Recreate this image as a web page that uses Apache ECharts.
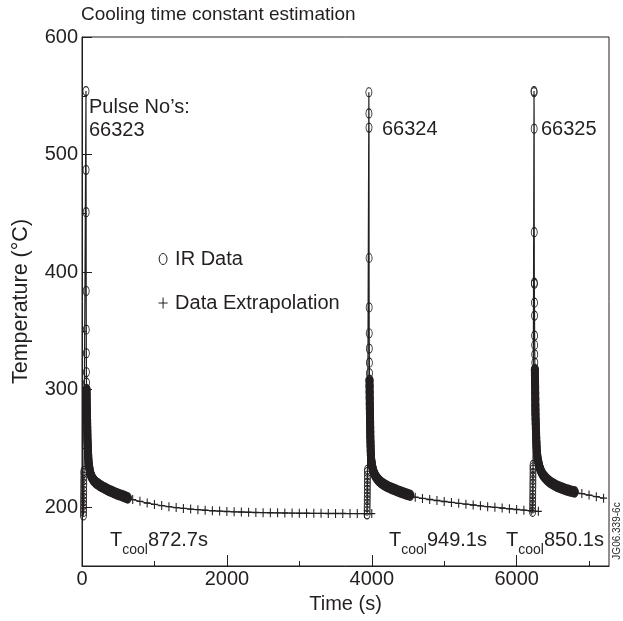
<!DOCTYPE html>
<html>
<head>
<meta charset="utf-8">
<title>Cooling time constant estimation</title>
<script src="https://cdn.jsdelivr.net/npm/echarts@6.0.0/dist/echarts.min.js"></script>
<style>
  html, body { margin: 0; padding: 0; background: #fff; }
  #chart { width: 623px; height: 621px; }
</style>
</head>
<body>
<div id="chart"></div>
<script>
// ink + font shared by every piece of text and every mark
const INK = '#231f20'
const FONT = '"Liberation Sans", Arial, Helvetica, sans-serif'

// axis ticks (values only)
const xTicks = [0, 2000, 4000, 6000]
const xMinorTicks = [1000, 3000, 5000, 7000]
const yTicks = [200, 300, 400, 500, 600]
const yMinorTicks = [250, 350, 450, 550]

// labels
const pulseNos = ['66323', '66324', '66325']
const tcool = ['872.7s', '949.1s', '850.1s']

// IR data, [time s, temperature C]
// spike = pre-pulse rise + sparse points on the peak; tail = dense cooling points
const irSpike66323 = [
  [20, 193], [21, 196], [21, 199], [22, 202], [22, 205], [23, 208], [23, 211], [24, 214],
  [24, 217], [25, 220], [25, 223], [26, 226], [26, 229], [27, 231],
  [55, 554], [56, 487], [57, 451], [58, 384], [59, 351], [60, 331], [61, 315], [62, 306]
]
const irTail66323 = [
  [63, 300], [64, 296], [65, 292], [66, 288], [67, 284], [68, 280], [69, 277], [70, 274],
  [71, 271], [72, 268], [73, 265], [74, 262], [75, 259], [77, 256], [79, 253], [81, 250],
  [83, 247], [85, 244], [88, 241], [91, 238], [95, 236], [100, 234], [106, 231.5],
  [113, 229.5], [121, 227.8], [130, 226.3], [140, 225], [152, 223.8], [165, 222.7],
  [180, 221.7], [196, 220.8], [213, 220], [232, 219.2], [252, 218.4], [274, 217.6],
  [297, 216.8], [321, 216], [346, 215.2], [372, 214.4], [398, 213.7], [424, 213],
  [450, 212.3], [476, 211.6], [502, 211], [528, 210.4], [554, 209.8], [580, 209.2],
  [606, 208.6], [630, 208]
]
const irSpike66324 = [
  [3935, 194], [3936, 197], [3936, 200], [3937, 203], [3937, 206], [3938, 209], [3938, 212],
  [3939, 215], [3939, 218], [3940, 221], [3940, 224], [3941, 227], [3941, 230], [3942, 232],
  [3960, 553], [3961, 535], [3962, 523], [3963, 412], [3964, 370], [3965, 348], [3966, 335],
  [3967, 323], [3968, 314]
]
const irTail66324 = [
  [3969, 308], [3970, 303], [3971, 298], [3972, 293], [3973, 288], [3974, 284], [3975, 280],
  [3976, 276], [3977, 272], [3978, 268], [3979, 264], [3980, 260], [3982, 256], [3984, 252],
  [3986, 248], [3988, 244.5], [3991, 241], [3995, 239], [4000, 237], [4006, 234.8],
  [4013, 232.8], [4021, 231], [4030, 229.4], [4040, 228], [4051, 226.6], [4064, 225.3],
  [4078, 224.1], [4094, 223], [4111, 222], [4130, 221], [4150, 220.1], [4172, 219.2],
  [4195, 218.4], [4220, 217.6], [4246, 216.8], [4273, 216.1], [4300, 215.4], [4328, 214.7],
  [4356, 214], [4385, 213.3], [4414, 212.6], [4443, 212], [4472, 211.4], [4501, 210.8],
  [4530, 210.2]
]
const irSpike66325 = [
  [6220, 196], [6221, 199], [6221, 202], [6222, 205], [6222, 208], [6223, 211], [6223, 214],
  [6224, 217], [6224, 220], [6225, 223], [6225, 226], [6226, 229], [6226, 232], [6227, 234],
  [6227, 236],
  [6240, 554], [6241, 553], [6242, 522], [6243, 434], [6244, 391], [6245, 390], [6246, 374],
  [6247, 363], [6248, 346], [6249, 338], [6250, 330], [6251, 323]
]
const irTail66325 = [
  [6252, 317], [6253, 312], [6254, 307], [6255, 302], [6256, 297], [6257, 292], [6258, 287],
  [6259, 283], [6260, 279], [6262, 275], [6264, 271], [6266, 267], [6268, 263], [6270, 259],
  [6273, 255], [6276, 251], [6280, 247], [6285, 243.5], [6291, 241], [6298, 239],
  [6306, 236.5], [6315, 234.3], [6326, 232.3], [6338, 230.5], [6352, 228.8], [6367, 227.3],
  [6384, 226], [6402, 224.7], [6421, 223.5], [6441, 222.4], [6462, 221.4], [6484, 220.5],
  [6507, 219.6], [6531, 218.8], [6556, 218], [6582, 217.3], [6608, 216.6], [6635, 216],
  [6662, 215.4], [6690, 214.8], [6718, 214.3], [6746, 213.8], [6774, 213.4], [6800, 213]
]

// extrapolated cooling curves
const ext66323 = [
  [640, 207.8], [700, 206.5], [800, 205], [900, 203.6], [1000, 202.4], [1100, 201.4],
  [1200, 200.5], [1300, 199.7], [1400, 199], [1500, 198.4], [1600, 197.9], [1700, 197.4],
  [1800, 197], [1900, 196.7], [2000, 196.4], [2100, 196.1], [2200, 195.9], [2300, 195.7],
  [2400, 195.5], [2500, 195.4], [2600, 195.3], [2700, 195.2], [2800, 195.1], [2900, 195],
  [3000, 194.9], [3100, 194.9], [3200, 194.8], [3300, 194.8], [3400, 194.7], [3500, 194.7],
  [3600, 194.7], [3700, 194.6], [3800, 194.6], [3900, 194.6], [4000, 194.6]
]
const ext66324 = [
  [4540, 210], [4600, 208.5], [4700, 207.5], [4800, 206.6], [4900, 205.7], [5000, 204.9],
  [5100, 204.1], [5200, 203.3], [5300, 202.6], [5400, 201.9], [5500, 201.2], [5600, 200.5],
  [5700, 199.9], [5800, 199.3], [5900, 198.7], [6000, 198.1], [6100, 197.5], [6200, 197],
  [6300, 196.5]
]
const ext66325 = [
  [6810, 212.8], [6900, 211.6], [7000, 210.3], [7100, 209], [7200, 207.7]
]

const PLUS = 'path://M0,6H10M5,0V12'
const OVAL = 'path://M5,0A5,7 0 1 1 5,14A5,7 0 1 1 5,0Z'

// thin line + open circles for the sparse part of each pulse
function irSpikeSeries(spike, tail) {
  return {
    type: 'line', name: 'IR Data', data: spike.concat([tail[0]]),
    symbol: 'circle', symbolSize: [6, 9],
    itemStyle: { color: 'transparent', borderColor: INK, borderWidth: 1 },
    lineStyle: { color: INK, width: 1.2 },
    silent: true, z: 3
  }
}
// dense cooling points overlap into a solid band
function irTailSeries(tail) {
  return {
    type: 'line', name: 'IR Data', data: tail,
    symbol: 'circle', symbolSize: [7, 10],
    itemStyle: { color: 'transparent', borderColor: INK, borderWidth: 1.4 },
    lineStyle: { color: INK, width: 8, cap: 'round', join: 'round' },
    silent: true, z: 3
  }
}
function extSeries(data) {
  return {
    type: 'line', name: 'Data Extrapolation', data: data,
    symbol: PLUS, symbolSize: [7, 9],
    itemStyle: { color: INK, borderColor: INK, borderWidth: 1.2 },
    lineStyle: { color: INK, width: 1 },
    silent: true, z: 2
  }
}

function tcoolText(left, value) {
  return {
    type: 'text', left: left, top: 530,
    style: {
      text: '{t|T}{s|cool}{t|' + value + '}',
      fill: INK,
      rich: {
        t: { fontSize: 20, lineHeight: 34, fontFamily: FONT, fill: INK },
        s: { fontSize: 14, lineHeight: 14, verticalAlign: 'bottom', fontFamily: FONT, fill: INK }
      }
    }
  }
}

const label20 = { fontSize: 20, color: INK, fontFamily: FONT }

const chart = echarts.init(document.getElementById('chart'), null, { renderer: 'canvas' })
chart.setOption({
  animation: false,
  backgroundColor: '#fff',
  textStyle: { fontFamily: FONT, color: INK },
  title: {
    text: 'Cooling time constant estimation',
    left: 81, top: 5, padding: 0,
    textStyle: { fontSize: 19, fontWeight: 'normal', color: INK, fontFamily: FONT }
  },
  grid: {
    left: 82, right: 14, top: 37, bottom: 55,
    show: true, borderColor: INK, borderWidth: 1,
    containLabel: false, outerBoundsMode: 'none'
  },
  legend: {
    orient: 'vertical', left: 158, top: 249, padding: 0,
    itemWidth: 10, itemHeight: 11, itemGap: 24,
    selectedMode: false,
    textStyle: Object.assign({ padding: [0, 0, 0, 2] }, label20),
    itemStyle: { color: 'transparent', borderColor: INK, borderWidth: 1 },
    data: [
      { name: 'IR Data', icon: OVAL },
      { name: 'Data Extrapolation', icon: PLUS }
    ]
  },
  xAxis: [
    {
      type: 'value', min: 0, max: 7275,
      name: 'Time (s)', nameLocation: 'middle', nameGap: 28, nameTextStyle: label20,
      axisLine: { show: true, lineStyle: { color: INK, width: 1 } },
      axisTick: { show: true, inside: true, length: 11, customValues: xTicks, lineStyle: { color: INK } },
      axisLabel: Object.assign({ margin: 3, customValues: xTicks, formatter: v => String(v) }, label20),
      splitLine: { show: false }
    },
    {
      type: 'value', min: 0, max: 7275, position: 'bottom',
      axisLine: { show: false },
      axisTick: { show: true, inside: true, length: 5, customValues: xMinorTicks, lineStyle: { color: INK } },
      axisLabel: { show: false },
      splitLine: { show: false }
    }
  ],
  yAxis: [
    {
      type: 'value', min: 150, max: 600,
      name: 'Temperature (°C)', nameLocation: 'middle', nameGap: 50,
      nameTextStyle: { fontSize: 21.5, color: INK, fontFamily: FONT },
      axisLine: { show: true, lineStyle: { color: INK, width: 1 } },
      axisTick: { show: true, inside: true, length: 10, customValues: yTicks, lineStyle: { color: INK } },
      axisLabel: Object.assign({ margin: 4, customValues: yTicks, formatter: v => String(v) }, label20),
      splitLine: { show: false }
    },
    {
      type: 'value', min: 150, max: 600, position: 'left',
      axisLine: { show: false },
      axisTick: { show: true, inside: true, length: 5, customValues: yMinorTicks, lineStyle: { color: INK } },
      axisLabel: { show: false },
      splitLine: { show: false }
    }
  ],
  series: [
    extSeries(ext66323), extSeries(ext66324), extSeries(ext66325),
    irSpikeSeries(irSpike66323, irTail66323), irTailSeries(irTail66323),
    irSpikeSeries(irSpike66324, irTail66324), irTailSeries(irTail66324),
    irSpikeSeries(irSpike66325, irTail66325), irTailSeries(irTail66325)
  ],
  graphic: [
    { type: 'text', left: 89, top: 96, style: { text: 'Pulse No’s:\n' + pulseNos[0], fontSize: 20, fontFamily: FONT, fill: INK, lineHeight: 23 } },
    { type: 'text', left: 382, top: 119, style: { text: pulseNos[1], fontSize: 20, fontFamily: FONT, fill: INK } },
    { type: 'text', left: 541, top: 119, style: { text: pulseNos[2], fontSize: 20, fontFamily: FONT, fill: INK } },
    tcoolText(110, tcool[0]),
    tcoolText(389, tcool[1]),
    tcoolText(506, tcool[2]),
    {
      type: 'text', x: 617, y: 531, rotation: Math.PI / 2,
      style: { text: 'JG06.339-6c', fontSize: 10, fontFamily: FONT, fill: INK, align: 'center', verticalAlign: 'middle' }
    }
  ]
})
</script>
</body>
</html>
